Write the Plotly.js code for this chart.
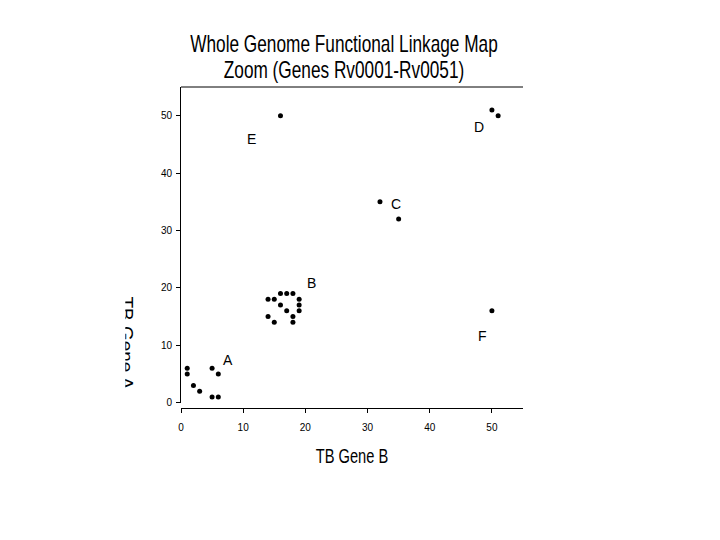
<!DOCTYPE html>
<html>
<head>
<meta charset="utf-8">
<script src="https://cdn.plot.ly/plotly-3.0.1.min.js"></script>
<style>html,body{margin:0;padding:0;background:#fff;}</style>
</head>
<body>
<div id="chart" style="width:720px;height:540px;"></div>
<script>
// Gene pairs (TB Gene B, TB Gene A)
const geneB = [1, 1, 2, 3, 5, 6, 5, 6,
               14, 15, 16, 17, 18, 16, 19, 19, 19, 17, 18, 14, 15, 18,
               32, 35,
               50, 51,
               16,
               50];
const geneA = [6, 5, 3, 2, 6, 5, 1, 1,
               18, 18, 19, 19, 19, 17, 18, 17, 16, 16, 15, 15, 14, 14,
               35, 32,
               51, 50,
               50,
               16];
// Cluster labels
const clusterNames = ['A', 'B', 'C', 'D', 'E', 'F'];
const clusterLabelX = [7.5, 21, 34.5, 47.9, 11.3, 48.5];
const clusterLabelY = [7.5, 20.9, 34.6, 48.1, 46, 11.7];
const tickValues = [0, 10, 20, 30, 40, 50];

const sans = 'Liberation Sans, Arial, sans-serif';

const trace = {
  x: geneB, y: geneA, type: 'scatter', mode: 'markers',
  marker: {size: 5, color: '#000'},
  hoverinfo: 'x+y', showlegend: false, cliponaxis: false
};

const annotations = clusterNames.map((t, i) => ({
  text: t, x: clusterLabelX[i], y: clusterLabelY[i], xref: 'x', yref: 'y',
  showarrow: false, font: {family: sans, size: 14, color: '#000'}
}));
annotations.push({
  text: 'TB Gene A', xref: 'paper', yref: 'paper', x: -0.162, y: 0.2025,
  xanchor: 'center', yanchor: 'middle',
  textangle: 90, showarrow: false, font: {family: sans, size: 19, color: '#000'}
});

const layout = {
  width: 720, height: 540,
  margin: {l: 181, r: 197, t: 87, b: 132},
  paper_bgcolor: '#fff', plot_bgcolor: '#fff',
  title: {
    text: 'Whole Genome Functional Linkage Map<br>Zoom (Genes Rv0001-Rv0051)',
    font: {family: sans, size: 23, color: '#000'},
    xref: 'container', x: 0.478, xanchor: 'center',
    yref: 'container', y: 0.897, yanchor: 'middle'
  },
  xaxis: {
    range: [0, 55], anchor: 'free', position: 0,
    showline: true, linecolor: '#000', linewidth: 1,
    ticks: 'outside', ticklen: 4, tickcolor: '#000', tickwidth: 1,
    tickvals: tickValues, ticktext: tickValues.map(String),
    tickfont: {family: sans, size: 10, color: '#000'},
    ticklabelstandoff: 6,
    showgrid: false, zeroline: false,
    title: {text: 'TB Gene B', font: {family: sans, size: 20, color: '#000'}, standoff: 22}
  },
  yaxis: {
    range: [0, 55], domain: [0.0166, 1], anchor: 'x',
    showline: true, linecolor: '#000', linewidth: 1,
    ticks: 'outside', ticklen: 4, tickcolor: '#000', tickwidth: 1,
    tickvals: tickValues, ticktext: tickValues.map(String),
    tickfont: {family: sans, size: 10, color: '#000'},
    ticklabelstandoff: 2,
    showgrid: false, zeroline: false
  },
  shapes: [{
    type: 'line', xref: 'paper', yref: 'paper', x0: 0, x1: 1, y0: 1, y1: 1,
    line: {color: '#000', width: 1}
  }],
  annotations: annotations
};

function condense(el, cx, sx) {
  el.setAttribute('transform', 'translate(' + cx + ',0) scale(' + sx + ',1) translate(' + (-cx) + ',0)');
}

Plotly.newPlot('chart', [trace], layout, {displayModeBar: false, staticPlot: true}).then(function (gd) {
  // Condensed title, as in the original figure
  const title = gd.querySelector('.gtitle');
  if (title) {
    const cx = 344, baselines = [51.6, 78];
    title.setAttribute('x', cx);
    const lines = title.querySelectorAll('tspan.line');
    if (lines.length) {
      lines.forEach(function (t, i) {
        t.setAttribute('x', cx); t.setAttribute('y', baselines[i] || baselines[0]); t.setAttribute('dy', 0);
      });
    } else {
      title.setAttribute('y', baselines[0]);
    }
    condense(title, cx, 0.75);
  }
  // Condensed x-axis title
  const xt = gd.querySelector('.xtitle');
  if (xt) {
    xt.setAttribute('x', 352); xt.setAttribute('y', 462.7);
    xt.querySelectorAll('tspan').forEach(function (t) { t.removeAttribute('x'); t.removeAttribute('y'); });
    condense(xt, 352, 0.733);
  }
  // The y-axis title is cut off on its left side in the original
  const ns = 'http://www.w3.org/2000/svg';
  const svgs = gd.querySelectorAll('svg.main-svg');
  const host = svgs[svgs.length - 1];
  const defs = document.createElementNS(ns, 'defs');
  const cp = document.createElementNS(ns, 'clipPath');
  cp.setAttribute('id', 'ytitleclip');
  cp.setAttribute('clipPathUnits', 'userSpaceOnUse');
  const r = document.createElementNS(ns, 'rect');
  r.setAttribute('x', 125.3); r.setAttribute('y', 0);
  r.setAttribute('width', 60); r.setAttribute('height', 540);
  cp.appendChild(r); defs.appendChild(cp); host.insertBefore(defs, host.firstChild);
  gd.querySelectorAll('g.annotation').forEach(function (g) {
    if (g.textContent.trim() === 'TB Gene A') g.setAttribute('clip-path', 'url(#ytitleclip)');
  });
});
</script>
</body>
</html>
